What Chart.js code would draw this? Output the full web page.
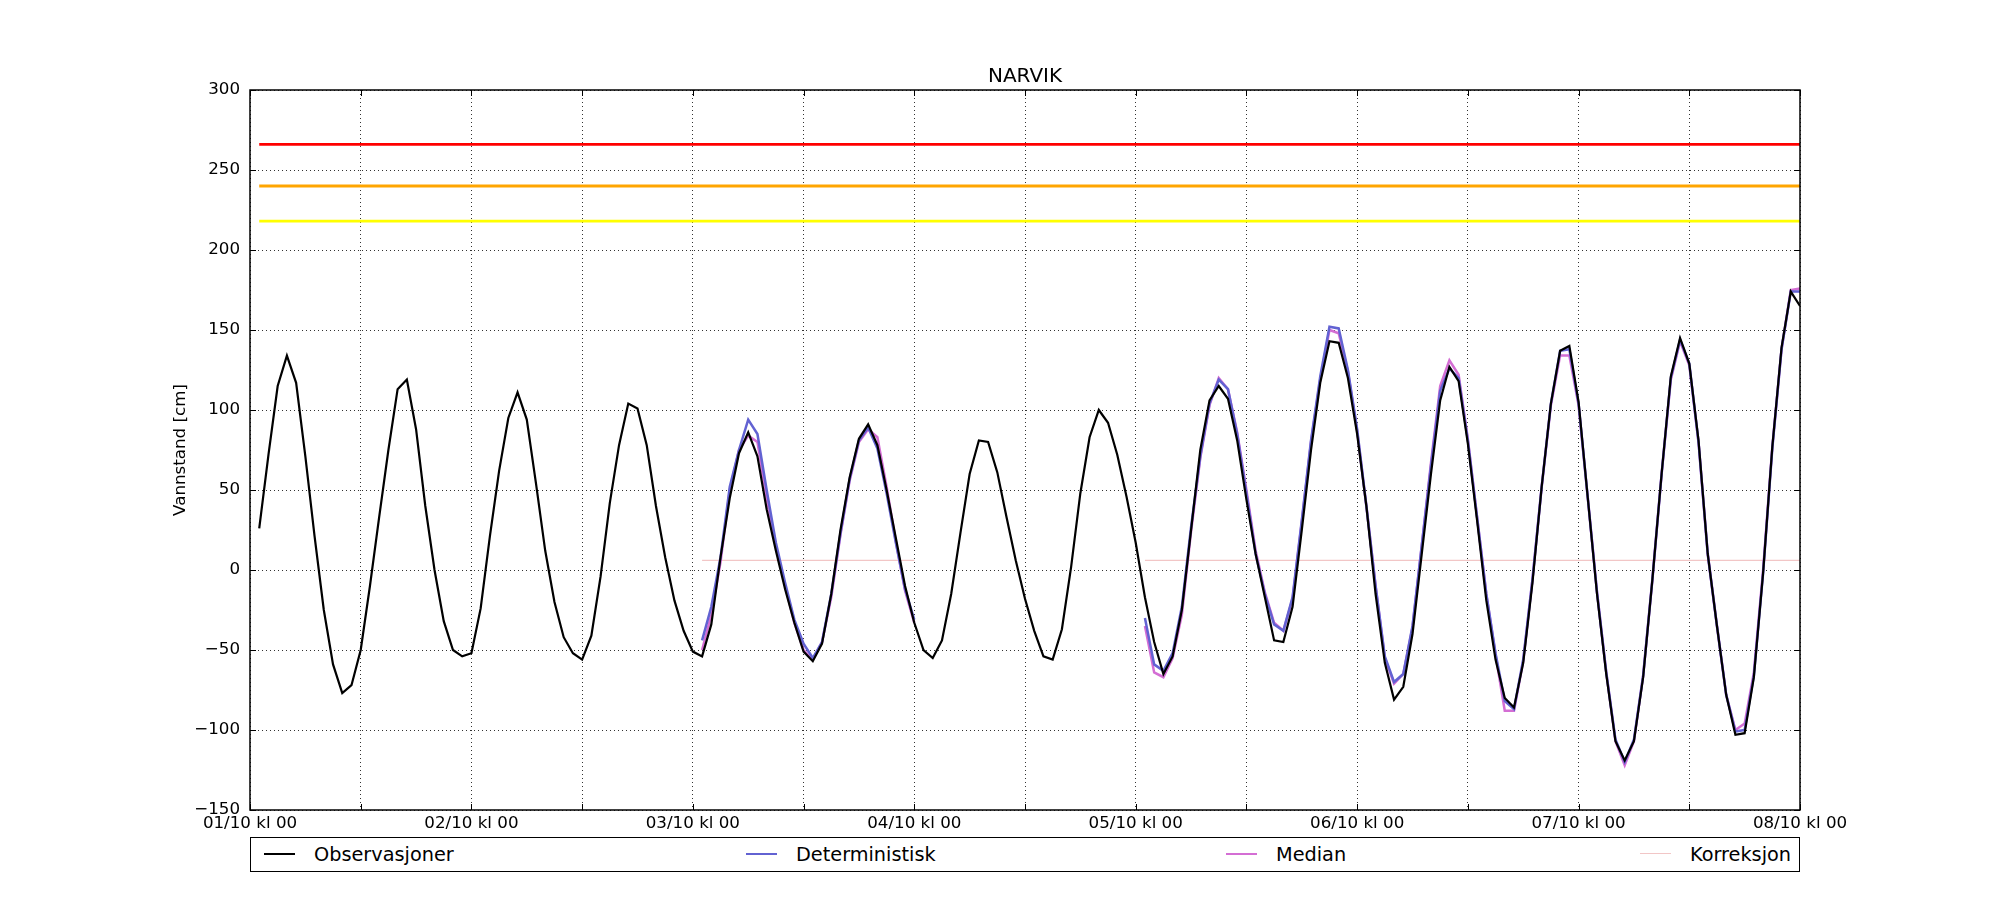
<!DOCTYPE html>
<html>
<head>
<meta charset="utf-8">
<script src="https://cdn.jsdelivr.net/npm/chart.js@4.4.1/dist/chart.umd.min.js"></script>
<style>
  html, body { margin: 0; padding: 0; background: #fff; }
  #wrap { position: relative; width: 2000px; height: 900px; background: #fff; }
  #c { position: absolute; left: 0; top: 0; width: 2000px; height: 900px; }
  #legend { position: absolute; left: 250px; top: 837px; width: 1550px; height: 35px;
            border: 1.5px solid #000; box-sizing: border-box; background: #fff;
            font-family: 'DejaVu Sans', sans-serif; font-size: 19.3px; color: #000; }
  .lg-line { position: absolute; top: 15px; width: 31px; }
  .lg-text { position: absolute; top: 0; line-height: 33px; white-space: nowrap; }
</style>
</head>
<body>
<div id="wrap">
  <canvas id="c" width="2000" height="900"></canvas>
  <div id="legend"></div>
</div>
<script>
// ---------------- DATA ----------------
const chartTitle = 'NARVIK';
const yAxisTitle = 'Vannstand [cm]';
const dayLabels = ['01/10 kl 00','02/10 kl 00','03/10 kl 00','04/10 kl 00',
                   '05/10 kl 00','06/10 kl 00','07/10 kl 00','08/10 kl 00'];
const yTickValues = [-150,-100,-50,0,50,100,150,200,250,300];

// Hourly observations, starting 01/10 kl 01 (hour 1)
const obsStartHour = 1;
const observasjoner = [
  26,72,115,134,117,71,21,-25,-59,-77,-72,-50,-10,33,75,113,119,88,40,0,-32,-50,-54,-52,
  -24,21,62,95,111,94,54,12,-20,-42,-52,-56,-41,-4,42,78,104,101,78,40,8,-19,-38,-51,
  -54,-34,8,45,73,86,71,38,12,-12,-33,-51,-57,-46,-15,25,58,82,91,78,50,20,-10,-33,
  -50,-55,-44,-15,23,60,81,80,61,33,6,-18,-38,-54,-56,-37,2,48,83,100,92,72,46,17,
  -17,-45,-65,-54,-25,25,75,106,115,107,81,44,10,-17,-44,-45,-23,25,75,117,143,142,120,85,
  40,-15,-58,-81,-73,-40,10,60,106,127,118,79,31,-19,-56,-80,-86,-58,-8,52,104,137,140,105,
  45,-15,-65,-107,-119,-107,-67,-6,60,121,145,129,81,10,-35,-78,-103,-102,-67,-2,77,139,174,165
];

// Forecast runs: first run from hour 49, second from hour 97
const run1StartHour = 49;
const run2StartHour = 97;

const deterministisk1 = [-44,-23,8,52,75,94,85,50,17,-8,-31,-46,-55,-45,-15,23,57,81,89,76,48,17,-12,-31];
const deterministisk2 = [
  -30,-59,-63,-52,-23,27,71,104,119,113,85,48,
  10,-15,-34,-38,-17,31,81,121,152,151,125,88,
  40,-10,-54,-70,-65,-35,15,65,112,126,120,81,
  33,-15,-52,-82,-87,-56,-6,52,104,137,138,104,
  45,-14,-64,-106,-120,-106,-66,-6,60,120,144,129,
  80,10,-35,-78,-101,-100,-66,-2,76,138,174,174
];

const median1 = [-50,-28,5,50,75,84,80,45,15,-10,-33,-50,-56,-45,-17,22,56,80,88,83,52,18,-13,-33];
const median2 = [
  -35,-64,-67,-55,-28,24,70,103,120,113,86,50,
  12,-14,-33,-38,-18,30,80,119,150,148,124,87,
  40,-10,-55,-71,-65,-36,15,67,115,131,122,82,
  33,-15,-53,-88,-88,-57,-6,52,103,134,134,103,
  45,-14,-64,-107,-122,-107,-66,-6,60,119,143,128,
  80,10,-35,-78,-100,-96,-64,0,77,138,175,176
];

const korreksjon1 = [6,6,6,6,6,6,6,6,6,6,6,6,6,6,6,6,6,6,6,6,6,6,6,6];
const korreksjon2 = [
  6,6,6,6,6,6,6,6,6,6,6,6,6,6,6,6,6,6,6,6,6,6,6,6,
  6,6,6,6,6,6,6,6,6,6,6,6,6,6,6,6,6,6,6,6,6,6,6,6,
  6,6,6,6,6,6,6,6,6,6,6,6,6,6,6,6,6,6,6,6,6,6,6,6
];

// Warning levels (cm), drawn from hour 1 to hour 168
const warningLevels = [266, 240, 218];
const warningStartHour = 1;
const warningEndHour = 168;

const seriesLabels = ['Observasjoner','Deterministisk','Median','Korreksjon'];

// ---------------- STYLE ----------------
const FONT = "'DejaVu Sans', sans-serif";
const colors = { obs: '#000000', det: '#6262d2', med: '#d46ed4', kor: '#f2c6c6' };
const warnColors = ['#ff0000', '#ffa500', '#ffff00'];
const widths = { obs: 2.2, det: 2.5, med: 2.5, kor: 1.2, warn: 2.8 };

// ---------------- BUILD ----------------
function toPoints(values, start) {
  return values.map((v, i) => ({ x: start + i, y: v }));
}
function twoRuns(a, b) {
  return toPoints(a, run1StartHour)
    .concat([{ x: run1StartHour + a.length, y: null }])
    .concat(toPoints(b, run2StartHour));
}

const datasets = [];
warningLevels.forEach((lvl, i) => {
  datasets.push({
    label: 'warn' + i,
    data: [{ x: warningStartHour, y: lvl }, { x: warningEndHour, y: lvl }],
    borderColor: warnColors[i], borderWidth: widths.warn, order: 10 + i
  });
});
datasets.push({ label: seriesLabels[3], data: twoRuns(korreksjon1, korreksjon2),
  borderColor: colors.kor, borderWidth: widths.kor, order: 5 });
datasets.push({ label: seriesLabels[2], data: twoRuns(median1, median2),
  borderColor: colors.med, borderWidth: widths.med, order: 4 });
datasets.push({ label: seriesLabels[1], data: twoRuns(deterministisk1, deterministisk2),
  borderColor: colors.det, borderWidth: widths.det, order: 3 });
datasets.push({ label: seriesLabels[0], data: toPoints(observasjoner, obsStartHour),
  borderColor: colors.obs, borderWidth: widths.obs, order: 0 });

datasets.forEach(d => {
  d.pointRadius = 0; d.pointHoverRadius = 0; d.tension = 0; d.fill = false;
  d.spanGaps = false; d.borderJoinStyle = 'miter'; d.borderCapStyle = 'butt';
});

const framePlugin = {
  id: 'frame',
  afterDraw(chart) {
    const { ctx, chartArea: a, scales } = chart;
    ctx.save();
    // title centred over the plot area
    ctx.fillStyle = '#000';
    ctx.font = "20px " + FONT;
    ctx.textAlign = 'center';
    ctx.textBaseline = 'middle';
    ctx.fillText(chartTitle, (a.left + a.right) / 2, a.top - 13);
    // inward tick marks
    ctx.strokeStyle = '#000';
    ctx.lineWidth = 1;
    const tl = 6;
    ctx.beginPath();
    scales.x.ticks.forEach(t => {
      const px = Math.round(scales.x.getPixelForValue(t.value)) + 0.5;
      ctx.moveTo(px, a.bottom); ctx.lineTo(px, a.bottom - tl);
      ctx.moveTo(px, a.top); ctx.lineTo(px, a.top + tl);
    });
    scales.y.ticks.forEach(t => {
      const py = Math.round(scales.y.getPixelForValue(t.value)) + 0.5;
      ctx.moveTo(a.left, py); ctx.lineTo(a.left + tl, py);
      ctx.moveTo(a.right, py); ctx.lineTo(a.right - tl, py);
    });
    ctx.stroke();
    ctx.lineWidth = 1.5;
    ctx.strokeRect(a.left, a.top, a.right - a.left, a.bottom - a.top);
    ctx.restore();
  }
};

const gridStyle = { color: 'rgba(0,0,0,0.8)', lineWidth: 1, drawTicks: false };

new Chart(document.getElementById('c'), {
  type: 'line',
  data: { datasets },
  plugins: [framePlugin],
  options: {
    responsive: false,
    animation: false,
    devicePixelRatio: 1,
    layout: { padding: { left: 0, right: 200, top: 90, bottom: 0 } },
    plugins: {
      legend: { display: false },
      tooltip: { enabled: false },
      title: { display: false }
    },
    scales: {
      x: {
        type: 'linear', min: 0, max: 168,
        grid: gridStyle,
        border: { display: false, dash: [1, 3] },
        ticks: {
          stepSize: 12, autoSkip: false, maxRotation: 0, padding: 4,
          color: '#000', font: { family: FONT, size: 16.7 },
          callback: v => (v % 24 === 0 ? dayLabels[v / 24] : '')
        },
        afterFit: s => { s.height = 90; }
      },
      y: {
        type: 'linear', min: yTickValues[0], max: yTickValues[yTickValues.length - 1],
        grid: gridStyle,
        border: { display: false, dash: [1, 3] },
        afterBuildTicks: s => { s.ticks = yTickValues.map(v => ({ value: v })); },
        ticks: {
          padding: 10, color: '#000', font: { family: FONT, size: 16.7 },
          callback: v => String(v).replace('-', '\u2212')
        },
        title: {
          display: true, text: yAxisTitle, color: '#000',
          font: { family: FONT, size: 16.7 },
          padding: { top: 171, bottom: 0 }
        },
        afterFit: s => { s.width = 250; }
      }
    }
  }
});

// ---------------- LEGEND (HTML) ----------------
const legendItems = [
  { label: seriesLabels[0], color: colors.obs, width: widths.obs },
  { label: seriesLabels[1], color: colors.det, width: widths.det },
  { label: seriesLabels[2], color: colors.med, width: widths.med },
  { label: seriesLabels[3], color: colors.kor, width: widths.kor }
];
const legendLineX = [13, 495, 975, 1389];
const legendTextGap = 50;
const legendEl = document.getElementById('legend');
legendItems.forEach((it, i) => {
  const ln = document.createElement('div');
  ln.className = 'lg-line';
  ln.style.left = legendLineX[i] + 'px';
  ln.style.borderTop = it.width + 'px solid ' + it.color;
  legendEl.appendChild(ln);
  const tx = document.createElement('div');
  tx.className = 'lg-text';
  tx.style.left = (legendLineX[i] + legendTextGap) + 'px';
  tx.textContent = it.label;
  legendEl.appendChild(tx);
});
</script>
</body>
</html>
